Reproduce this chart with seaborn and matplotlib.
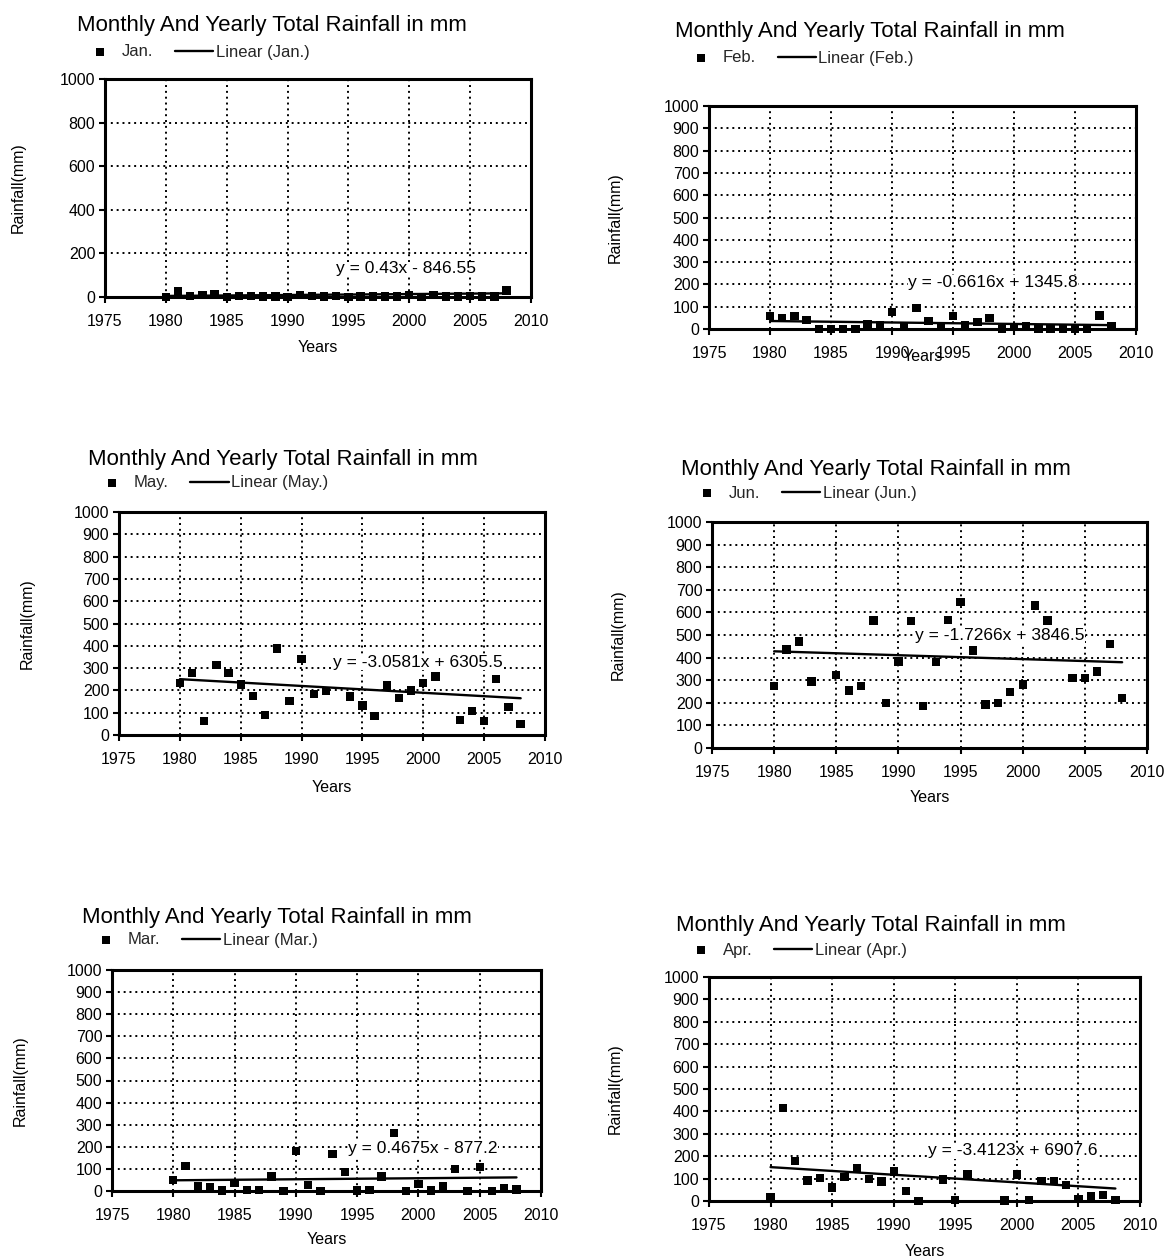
import numpy as np
import pandas as pd
import seaborn as sns
import matplotlib.pyplot as plt

# rainfall (mm) per year; nan = no marker shown
years = list(range(1980, 2009))

jan = [0, 25, 5, 8, 15, 0, 5, 5, 3, 3, 0, 10, 5, 3, 5, 0, 3, 3, 3, 3,
       8, 0, 10, 3, 3, 5, 2, 2, 30]
feb = [58, 48, 58, 40, 0, 0, 0, 0, 22, 15, 76, 10, 93, 36, 12, 58, 16, 30, 48, 0,
       9, 12, 0, 0, 0, 0, 0, 60, 12]
may = [232, 278, 62, 315, 278, 226, 174, 89, 388, 151, 342, 183, 196, np.nan, 172, 132, 85, 222, 165, 199,
       233, 262, np.nan, 66, 109, 62, 252, 125, 50]
jun = [274, 436, 471, 294, np.nan, 323, 255, 274, 564, 200, 383, 561, 187, 380, 567, 647, 432, 193, 200, 248,
       281, 631, 564, np.nan, 309, 311, 338, 460, 222]
mar = [50, 114, 21, 19, 3, 37, 6, 4, 66, 1, 180, 26, 0, 168, 86, 2, 5, 66, 262, 0,
       31, 2, 20, 100, 1, 110, 0, 15, 7]
apr = [18, 415, 180, 92, 103, 60, 106, 148, 97, 87, 132, 45, 0, np.nan, 96, 3, 118, np.nan, np.nan, 2,
       118, 3, 90, 90, 70, 8, 22, 27, 3]

months = ['Jan.', 'Feb.', 'May.', 'Jun.', 'Mar.', 'Apr.']
values = [jan, feb, may, jun, mar, apr]
# trend line coefficients as printed on each chart
slopes = [0.43, -0.6616, -3.0581, -1.7266, 0.4675, -3.4123]
intercepts = [-846.55, 1345.8, 6305.5, 3846.5, -877.2, 6907.6]
equations = ['y = 0.43x - 846.55', 'y = -0.6616x + 1345.8', 'y = -3.0581x + 6305.5',
             'y = -1.7266x + 3846.5', 'y = 0.4675x - 877.2', 'y = -3.4123x + 6907.6']
y_steps = [200, 100, 100, 100, 100, 100]
title = 'Monthly And Yearly Total Rainfall in mm'

# layout in pixels of the 1165x1259 page: axes box (x1975, x2010, y1000, y0),
# title centre, legend marker centre, equation left/centre, "Years" centre y, ylabel x
W, H = 1165, 1259
layout = [
    dict(box=(105, 531, 79, 297), title=(272, 25), leg=(100, 52), eq=(336, 269), yrs=347, ylab=18),
    dict(box=(709, 1136, 106, 329), title=(870, 32), leg=(701, 58), eq=(908, 283), yrs=357, ylab=615),
    dict(box=(119, 545, 512, 735), title=(283, 460), leg=(112, 483), eq=(333, 662), yrs=787, ylab=27),
    dict(box=(712, 1147, 522, 748), title=(876, 470), leg=(707, 493), eq=(915, 635), yrs=798, ylab=618),
    dict(box=(112, 541, 970, 1191), title=(277, 917), leg=(106, 940), eq=(348, 1149), yrs=1240, ylab=20),
    dict(box=(709, 1140, 977, 1201), title=(871, 925), leg=(701, 950), eq=(928, 1151), yrs=1252, ylab=615),
]

sns.set_theme(style='white')
plt.rcParams['font.family'] = ['Liberation Sans', 'DejaVu Sans']

fig = plt.figure(figsize=(W / 100, H / 100), dpi=100)


def fx(px):
    return px / W


def fy(py):
    return 1 - py / H


for name, vals, a, b, eq, step, lay in zip(months, values, slopes, intercepts,
                                           equations, y_steps, layout):
    x0, x1, yt, yb = lay['box']
    ax = fig.add_axes([fx(x0), fy(yb), fx(x1 - x0), (yb - yt) / H])
    df = pd.DataFrame({'Year': years, 'Rain': vals}).dropna()

    sns.scatterplot(data=df, x='Year', y='Rain', marker='s', s=36, color='black',
                    edgecolor='none', ax=ax, label=name, clip_on=False, zorder=4)
    trend_x = np.array([df['Year'].min(), df['Year'].max()])
    sns.lineplot(x=trend_x, y=a * trend_x + b, color='black', linewidth=1.7,
                 ax=ax, label=f'Linear ({name})', zorder=3)

    ax.set_xlim(1975, 2010)
    ax.set_ylim(0, 1000)
    ax.set_xticks(range(1975, 2011, 5))
    ax.set_yticks(range(0, 1001, step))
    ax.set_xlabel('')
    ax.set_ylabel('')
    ax.grid(True, color='black', linestyle=(0, (1, 2)), linewidth=1.4)
    for sp in ax.spines.values():
        sp.set_color('black')
        sp.set_linewidth(2.2)
    ax.tick_params(axis='both', direction='out', length=4, width=1.5, color='black',
                   labelsize=11.5, labelcolor='black')
    ax.tick_params(axis='x', pad=8, bottom=True)
    ax.tick_params(axis='y', pad=3, left=True)

    ax.text(fx(lay['eq'][0]), fy(lay['eq'][1]), eq, transform=fig.transFigure,
            ha='left', va='center', fontsize=12.5, color='black', zorder=2.5,
            bbox=dict(facecolor='white', edgecolor='none', pad=0))

    handles, labels = ax.get_legend_handles_labels()
    ax.legend(handles, labels, ncol=2, frameon=False, loc='center left',
              bbox_to_anchor=(fx(lay['leg'][0] - 19), fy(lay['leg'][1])),
              bbox_transform=fig.transFigure, handlelength=2.3, handletextpad=0.15,
              columnspacing=1.3, borderpad=0, borderaxespad=0, fontsize=12)

    fig.text(fx(lay['title'][0]), fy(lay['title'][1]), title, ha='center', va='center',
             fontsize=16, color='black')
    fig.text(fx((x0 + x1) / 2), fy(lay['yrs']), 'Years', ha='center', va='center',
             fontsize=11.5, color='black')
    fig.text(fx(lay['ylab']), fy((yt + yb) / 2), 'Rainfall(mm)', ha='center', va='center',
             rotation=90, fontsize=11.5, color='black')

fig.savefig('out.png', dpi=100, facecolor='white')
